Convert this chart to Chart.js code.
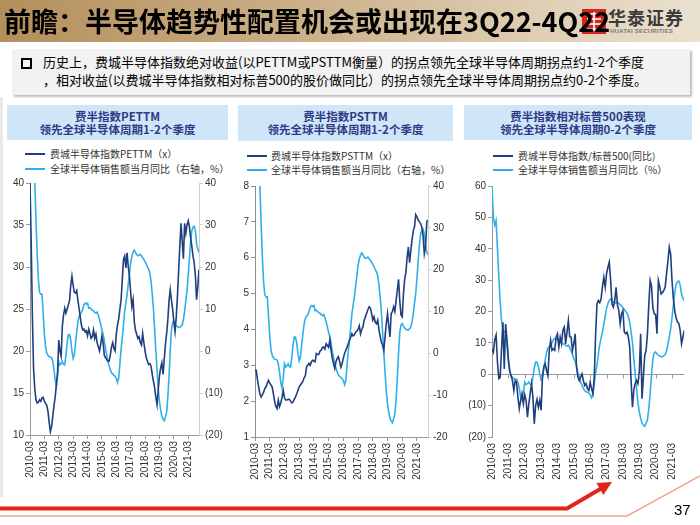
<!DOCTYPE html>
<html><head><meta charset="utf-8">
<script src="https://cdn.jsdelivr.net/npm/chart.js@4.4.0/dist/chart.umd.min.js"></script>
<style>
body{margin:0;width:700px;height:525px;overflow:hidden;background:#fff;position:relative;font-family:'Noto Sans CJK SC','Noto Sans',sans-serif;}
.abs{position:absolute;}
#hdr{left:0;top:0;width:700px;height:42px;background:linear-gradient(to right,#b48f5c 0%,#c9ad84 40%,#ddcdb2 75%,#ebe1d0 100%);}
#title{left:4px;top:0;height:42px;line-height:42px;font-size:27px;font-weight:700;color:#000;white-space:nowrap;z-index:3;}
#logoTxt{left:608px;top:4px;font-size:18px;font-weight:700;color:#3b3b3b;letter-spacing:1px;white-space:nowrap;}
#logoSub{left:610px;top:28px;font-family:'Liberation Sans',Arial,sans-serif;font-size:6px;font-weight:700;color:#777;white-space:nowrap;letter-spacing:0.2px;}
#box{left:12px;top:49px;width:678px;height:46px;background:#f2f2f2;box-shadow:2px 2px 2px #bdbdbd;}
#bullet{left:21px;top:58px;width:7px;height:7px;border:2px solid #000;}
#btxt{left:43px;top:53px;font-size:13px;line-height:18px;color:#000;white-space:nowrap;}
.ptitle{background:#cfe6f8;color:#2e3a87;font-weight:700;font-size:11.5px;line-height:13px;text-align:center;display:flex;flex-direction:column;justify-content:center;}
.leg{font-size:10px;color:#333;white-space:nowrap;line-height:12px;}
.sw{position:absolute;width:20px;height:2px;}
canvas{position:absolute;}
</style></head>
<body>
<div class="abs" id="hdr"></div>
<svg class="abs" style="left:582px;top:9px;z-index:1" width="24" height="25">
<rect x="0" y="0" width="24" height="25" fill="#d9261c"/>
<path d="M5 5 L19 5 M5 10 L19 10 M5 15 L19 15 M5 20 L19 20 M12 3 L12 22" stroke="#fff" stroke-width="1.6"/>
</svg>
<div class="abs" id="title">前瞻：半导体趋势性配置机会或出现在3Q22-4Q22</div>
<div class="abs" id="logoTxt">华泰证券</div>
<div class="abs" id="logoSub">HUATAI SECURITIES</div>
<div class="abs" style="left:0;top:97px;width:3px;height:400px;background:#e9e9e9"></div>
<div class="abs" id="box"></div>
<div class="abs" id="bullet"></div>
<div class="abs" id="btxt">历史上，费城半导体指数绝对收益(以PETTM或PSTTM衡量）的拐点领先全球半导体周期拐点约1-2个季度<br>，相对收益(以费城半导体指数相对标普500的股价做同比）的拐点领先全球半导体周期拐点约0-2个季度。</div>

<div class="abs ptitle" style="left:7px;top:105px;width:221px;height:35px"><div>费半指数PETTM</div><div>领先全球半导体周期1-2个季度</div></div>
<div class="abs ptitle" style="left:238px;top:105px;width:215px;height:36px"><div>费半指数PSTTM</div><div>领先全球半导体周期1-2个季度</div></div>
<div class="abs ptitle" style="left:464px;top:105px;width:228px;height:35px"><div>费半指数相对标普500表现</div><div>领先全球半导体周期0-2个季度</div></div>

<div class="sw" style="left:25px;top:153px;background:#203f7f"></div>
<div class="abs leg" style="left:50px;top:148px">费城半导体指数PETTM（x）</div>
<div class="sw" style="left:25px;top:168px;background:#2fb0e8"></div>
<div class="abs leg" style="left:50px;top:163px">全球半导体销售额当月同比（右轴，%）</div>

<div class="sw" style="left:247px;top:155px;background:#203f7f"></div>
<div class="abs leg" style="left:271px;top:150px">费城半导体指数PSTTM（x）</div>
<div class="sw" style="left:247px;top:169px;background:#2fb0e8"></div>
<div class="abs leg" style="left:271px;top:164px">全球半导体销售额当月同比（右轴，%）</div>

<div class="sw" style="left:493px;top:155px;background:#203f7f"></div>
<div class="abs leg" style="left:518px;top:150px">费城半导体指数/标普500(同比)</div>
<div class="sw" style="left:493px;top:169px;background:#2fb0e8"></div>
<div class="abs leg" style="left:518px;top:164px">全球半导体销售额当月同比（%）</div>

<canvas id="c1" width="230" height="310" style="left:0;top:173px"></canvas>
<canvas id="c2" width="228" height="309" style="left:230px;top:176px"></canvas>
<canvas id="c3" width="230" height="309" style="left:460px;top:176px"></canvas>

<svg class="abs" style="left:0;top:0" width="700" height="525">
<polyline points="0,516 627,516 700,476" fill="none" stroke="#f2a58e" stroke-width="1.5"/>
<polyline points="0,508.5 567,508.5 602,488" fill="none" stroke="#e1241c" stroke-width="4"/>
<polygon points="612,482 603.4,495.1 596.4,482.9" fill="#e1241c"/>
</svg>
<div class="abs" style="left:674px;top:501px;font-family:'Liberation Sans',Arial,sans-serif;font-size:15px;color:#000">37</div>

<script>
// Monthly data, 2010-03 .. 2021-12 (index 0 = 2010-03)
const tickLabels = ['2010-03','2011-03','2012-03','2013-03','2014-03','2015-03','2016-03','2017-03','2018-03','2019-03','2020-03','2021-03'];

// 全球半导体销售额当月同比 (%)
const salesYoY = [
60,50,47.5,49,40,31,23,17,14,13.5,
13.5,9,4,1,-0.5,-1,-1.4,-1.5,-1.6,-2.5,
-4.5,-7,-8.3,-6,-2.5,-3.3,-3,-2.5,-3.2,-3.3,
-1,2,3.9,3.9,2.5,0,-1.8,-1,2,4.5,
7,8.3,8.8,9.2,10,11,11.4,11.2,11.4,10.2,
10.3,10,9.7,9.6,9.2,9,9.3,8.5,7.5,6.3,
5,4,2.5,0.5,-1,-2.5,-3.5,-4.5,-5.2,-5.5,
-5.8,-6,-6.5,-7.5,-6.5,-3,0.5,3,6.3,9.5,
11.5,13.5,16,18.5,21,22.5,23.5,24,23.5,23,
22.7,22.8,23,22.6,22.2,21.8,21.2,20.7,20,19.5,
18.5,16.5,13.5,10,5,0,-4.5,-9,-12,-14,
-15.5,-16.2,-16.6,-15.6,-14.5,-11,-6,0,5,6.8,
7.1,6.5,6,5.8,5.6,5.6,5.9,6.3,7.5,9.5,
12,14.3,18,22,26,28.6,29.5,29.7,28.5,25.5,
24.2,23.5];

// 费城半导体指数PETTM (x)
const pettm = [
40,33,24,17.8,15.5,14.2,13.8,13.9,14.2,14.0,
14.4,14.5,14.0,13.8,13.5,12.8,11.5,10.4,11.0,12.2,
13.5,14.5,16.0,17.5,21.3,20.0,19.4,23.0,24.3,25.1,
24.5,25.0,25.5,26.0,27.8,28.9,27.8,27.0,26.9,27.2,
26.0,25.0,24.0,23.0,22.5,22.6,22.3,22.4,21.8,22.6,
22.1,21.5,21.7,22.5,21.5,22.0,21.0,20.5,20.0,20.8,
21.8,21.0,19.5,19.2,19.0,18.8,18.8,19.5,20.5,21.0,
20.3,20.0,22.0,23.1,23.8,25.0,26.1,28.5,30.9,31.3,
29.9,31.7,30.0,28.9,27.0,25.3,26.1,23.5,22.5,22.0,
21.5,21.7,21.0,20.7,22.1,21.0,20.0,19.2,18.8,18.4,
18.5,18.2,17.2,16.4,15.6,14.5,13.6,15.4,17.0,18.0,
18.6,17.2,19.0,20.8,22.1,23.7,26.0,27.3,26.1,25.0,
23.5,22.3,24.0,26.5,29.5,32.5,35.2,33.0,31.0,35.2,
34.0,35.0,35.5,34.8,33.5,32.5,31.3,30.5,28.9,26.1,
27.7,29.7];

// 费城半导体指数PSTTM (x)
const psttm = [
2.86,2.86,2.6,2.4,2.2,2.12,2.18,2.25,2.35,2.4,
2.5,2.58,2.5,2.45,2.4,2.2,2.0,1.85,1.79,2.03,
1.85,1.95,2.1,2.3,2.1,2.03,2.03,2.05,2.05,2.0,
1.95,1.98,2.05,2.12,2.2,2.3,2.4,2.45,2.5,2.55,
2.65,2.7,2.95,3.0,3.05,3.0,3.1,3.14,3.12,3.1,
3.33,3.3,3.3,3.4,3.42,3.5,3.51,3.45,3.6,3.55,
3.5,3.71,3.42,3.2,3.05,2.91,3.1,3.19,3.24,3.1,
2.95,3.05,3.2,3.33,3.42,3.5,3.6,3.7,3.78,3.88,
3.82,3.85,3.93,3.95,4.0,4.1,3.88,4.0,4.07,4.26,
4.35,4.45,4.55,4.63,4.6,4.45,4.26,4.35,4.2,4.16,
4.26,4.0,3.8,3.65,3.56,3.42,3.8,4.16,4.44,4.1,
3.79,4.44,4.5,4.63,4.5,4.81,5.1,5.4,4.8,4.4,
4.35,5.0,5.4,5.6,6.02,6.3,5.86,6.2,6.5,6.75,
6.86,7.2,7.14,7.05,7.0,6.95,6.85,6.6,6.11,6.3,
7.0,7.05];

// 费城半导体指数/标普500 (同比, %)
const relYoY = [
8,7,11,12.5,4,-1.4,-1,8,16.6,1.7,
16,11,5,1,-0.5,-2,-5.2,-2,-2.5,-7.3,
-11,-8.3,-6.2,-9.4,-6.5,-8.3,-13.7,-9.4,-6.2,-3,
-7.3,-15.8,-10,-8,-10.5,-8.3,-11.5,-1,2.3,3.3,
1.2,-0.5,7.6,10.8,7.6,8.1,7.6,11.8,12.9,8.6,
11.8,9.7,14,15,9.7,13.4,17.1,12,11.8,7.6,
9.7,12.9,2.3,-0.9,-2,-0.9,0.1,-2,-3.6,-3,
-4.6,-5.2,-2.5,-4.6,-6.2,-0.9,12.9,22.4,23.5,22.8,
24,28,30.9,27.8,32,34.1,35.7,30,22.4,21.4,
23.5,27.7,22,20.3,16.1,19.3,20.3,13.5,12.9,13.4,
11.8,8.6,-2,-10.5,-5,-3,-2,-3,0.5,12.9,
-7.8,-0.9,6,7.6,12.9,22.5,29.9,28,21,19.3,
19,12.9,29.9,28,25.6,26,26.7,27.8,32,36,
40.5,38.4,29.9,24,20.3,18,16.6,16.3,14,9.7,
11.8,14];

const DARK = '#203f7f', LIGHT = '#2fb0e8';
const F = "'Liberation Sans', Arial, sans-serif";
const N = salesYoY.length;
const pts = arr => arr.map((v, i) => ({x: i, y: v}));
const paren = v => v < 0 ? '(' + (-v) + ')' : String(v);
const plain = v => String(v);

function yAxis(pos, min, max, step, fmt, width, col, tick) {
  return { type: 'linear', position: pos, min: min, max: max,
    ticks: { stepSize: step, color: '#333', font: {family: F, size: 10}, padding: 2, callback: fmt },
    grid: { drawOnChartArea: false, tickLength: tick, color: col, tickColor: col },
    border: { display: true, color: col, width: 1 },
    afterFit(s) { s.width = width; } };
}
function xAxis(showLine, pad) {
  return { type: 'linear', min: 0, max: N - 1,
    afterBuildTicks(s) { s.ticks = tickLabels.map((_, i) => ({value: i * 12})); },
    ticks: { autoSkip: false, minRotation: 90, maxRotation: 90, color: '#333', font: {family: F, size: 10}, padding: pad,
      callback: v => tickLabels[Math.round(v / 12)] || '' },
    grid: { drawOnChartArea: false, drawTicks: showLine, tickLength: 4, color: '#999', tickColor: '#999' },
    border: { display: showLine, color: '#999' },
    afterFit(s) { s.height = 48; } };
}
function ds(data, color, axis) {
  return { data: pts(data), borderColor: color, borderWidth: 1.6, pointRadius: 0, fill: false, tension: 0, yAxisID: axis };
}
const base = { responsive: false, animation: false, parsing: true,
  plugins: { legend: {display: false}, tooltip: {enabled: false} } };

new Chart(document.getElementById('c1'), { type: 'line',
  data: { datasets: [ ds(pettm, DARK, 'y'), ds(salesYoY, LIGHT, 'y1') ] },
  options: Object.assign({}, base, { layout: {padding: {top: 10, left: 0, right: 0, bottom: 0}},
    scales: { x: xAxis(true, 2),
      y: yAxis('left', 10, 40, 5, plain, 30, '#9a9a9a', 4),
      y1: yAxis('right', -20, 40, 10, paren, 31, '#d0d0d0', 4) } }) });

new Chart(document.getElementById('c2'), { type: 'line',
  data: { datasets: [ ds(psttm, DARK, 'y'), ds(salesYoY, LIGHT, 'y1') ] },
  options: Object.assign({}, base, { layout: {padding: {top: 10, left: 0, right: 0, bottom: 0}},
    scales: { x: xAxis(true, 2),
      y: yAxis('left', 1, 8, 1, plain, 25, '#8c8c8c', 4),
      y1: yAxis('right', -20, 40, 10, plain, 30, '#d0d0d0', 3) } }) });

const zeroTicks = { id: 'zeroTicks', afterDraw(chart) {
  const x = chart.scales.x, y = chart.scales.y, ctx = chart.ctx;
  const y0 = Math.round(y.getPixelForValue(0)) + 0.5;
  ctx.save(); ctx.strokeStyle = '#999'; ctx.lineWidth = 1;
  x.ticks.forEach(t => { const px = Math.round(x.getPixelForValue(t.value)) + 0.5;
    ctx.beginPath(); ctx.moveTo(px, y0); ctx.lineTo(px, y0 + 4); ctx.stroke(); });
  ctx.restore(); } };

const y3 = yAxis('left', -20, 60, 10, paren, 32, '#9a9a9a', 4);
y3.grid = { drawOnChartArea: true, tickLength: 4, tickColor: '#9a9a9a',
  color: c => (c.tick && c.tick.value === 0) ? '#9a9a9a' : 'rgba(0,0,0,0)' };
new Chart(document.getElementById('c3'), { type: 'line',
  data: { datasets: [ ds(relYoY, DARK, 'y'), ds(salesYoY, LIGHT, 'y') ] },
  options: Object.assign({}, base, { layout: {padding: {top: 10, left: 0, right: 0, bottom: 0}},
    scales: { x: xAxis(false, 6), y: y3 } }),
  plugins: [zeroTicks] });
</script>
</body></html>
